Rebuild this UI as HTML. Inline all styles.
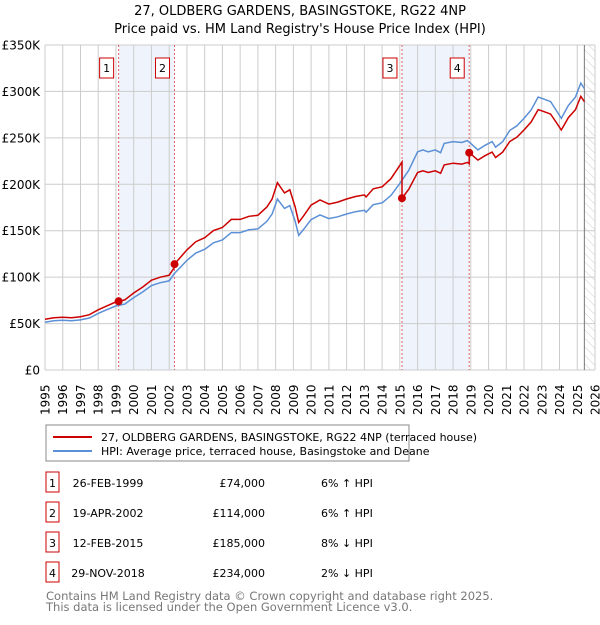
<!DOCTYPE html>
<html><head><meta charset="utf-8"><style>
body{margin:0;background:#fff;font-family:"Liberation Sans","DejaVu Sans",sans-serif;}
svg text{font-family:"DejaVu Sans","Liberation Sans",sans-serif;}
</style></head><body>
<svg id="chart" width="600" height="620" viewBox="0 0 600 620">
<defs><pattern id="hatch" width="6" height="6" patternUnits="userSpaceOnUse" patternTransform="rotate(-45)"><line x1="0" y1="0" x2="0" y2="6" stroke="#ccc" stroke-width="1"/></pattern></defs>
<text x="300" y="15" text-anchor="middle" font-size="13">27, OLDBERG GARDENS, BASINGSTOKE, RG22 4NP</text>
<text x="300" y="33" text-anchor="middle" font-size="13">Price paid vs. HM Land Registry's House Price Index (HPI)</text>
<g id="plot"></g>
<rect x="46" y="425" width="363" height="36" fill="#fff" stroke="#888"/>
<line x1="53" y1="437" x2="92" y2="437" stroke="#cc0000" stroke-width="2"/>
<text x="101" y="441" font-size="11">27, OLDBERG GARDENS, BASINGSTOKE, RG22 4NP (terraced house)</text>
<line x1="53" y1="451" x2="92" y2="451" stroke="#5b8fd6" stroke-width="2"/>
<text x="101" y="455" font-size="11">HPI: Average price, terraced house, Basingstoke and Deane</text>
<g id="table"></g>
<text x="46" y="600" font-size="11.5" fill="#777">Contains HM Land Registry data © Crown copyright and database right 2025.</text>
<text x="46" y="611" font-size="11.5" fill="#777">This data is licensed under the Open Government Licence v3.0.</text>
</svg>
<script>
const hpiYears=[1995,1995.5,1996,1996.5,1997,1997.5,1998,1998.5,1999,1999.5,2000,2000.5,2001,2001.5,2002,2002.3,2002.6,2003,2003.5,2004,2004.5,2005,2005.5,2006,2006.5,2007,2007.5,2007.8,2008.1,2008.5,2008.8,2009.1,2009.3,2009.6,2010,2010.5,2011,2011.5,2012,2012.5,2013,2013.1,2013.5,2014,2014.5,2015,2015.5,2016,2016.3,2016.6,2017,2017.3,2017.5,2018,2018.5,2018.8,2019.0,2019.4,2019.8,2020.2,2020.4,2020.8,2021.2,2021.6,2022,2022.4,2022.8,2023.1,2023.5,2023.8,2024.1,2024.5,2024.9,2025.2,2025.4];
const hpiValues=[51.5,53,53.5,53,54,56,61,65,69,71,78,84,91,94,96,104,110,118,126,130,137,140,148,148,151,152,160,168,184,174,177,160,145,152,162,167,163,165,168,170.5,172,170,178,180,188,201,215,235,237,235,237,234,244,246,245,247,244,237,242,246,240,246,258,263,271,280,294,292,289,280,271,285,294,309,303];
const saleDates=[1999.15,2002.3,2015.12,2018.91];
const salePrices=[74,114,185,234];
const saleLabels=["1","2","3","4"];
const saleDateText=["26-FEB-1999","19-APR-2002","12-FEB-2015","29-NOV-2018"];
const salePriceText=["£74,000","£114,000","£185,000","£234,000"];
const saleDiffText=["6% ↑ HPI","6% ↑ HPI","8% ↓ HPI","2% ↓ HPI"];
const yTicks=[0,50,100,150,200,250,300,350];
const yTickLabels=["£0","£50K","£100K","£150K","£200K","£250K","£300K","£350K"];
const xTicks=[];for(let y=1995;y<=2026;y++)xTicks.push(y);

const NS="http://www.w3.org/2000/svg";
const X0=45,X1=595,Y0=370,Y1=45;
const xs=t=>X0+(t-1995)*(X1-X0)/31;
const ys=v=>Y0-v*(Y0-Y1)/350;
function mk(tag,attrs,parent){const e=document.createElementNS(NS,tag);for(const k in attrs)e.setAttribute(k,attrs[k]);parent.appendChild(e);return e;}
const plot=document.getElementById('plot');
function hpiAt(t){for(let i=0;i<hpiYears.length-1;i++){if(t>=hpiYears[i]&&t<=hpiYears[i+1]){const f=(t-hpiYears[i])/(hpiYears[i+1]-hpiYears[i]);return hpiValues[i]+f*(hpiValues[i+1]-hpiValues[i]);}}return hpiValues[hpiValues.length-1];}
for(let i=0;i<saleDates.length;i+=2){
 const r=mk('rect',{x:xs(saleDates[i]),y:Y1,width:xs(saleDates[i+1])-xs(saleDates[i]),height:Y0-Y1,fill:'#eef3fc'},plot);
 
 
}
const last=hpiYears[hpiYears.length-1];
const h=mk('rect',{x:xs(last),y:Y1,width:X1-xs(last),height:Y0-Y1,fill:'url(#hatch)'},plot);


yTicks.forEach((v,i)=>{
 const l=mk('line',{x1:X0,x2:X1,y1:ys(v),y2:ys(v),stroke:'#ccc','stroke-width':1},plot);
 
 
 const t=mk('text',{x:40,y:ys(v)+4.5,'text-anchor':'end','font-size':12},plot);t.textContent=yTickLabels[i];
 
 
});
xTicks.forEach(y=>{
 const l=mk('line',{x1:xs(y),x2:xs(y),y1:Y1,y2:Y0,stroke:'#ccc','stroke-width':1},plot);
 
 
 const t=mk('text',{x:0,y:0,'font-size':12,transform:`translate(${xs(y)+4.5},415) rotate(-90)`},plot);t.textContent=y;
 
 
});
const vl=mk('line',{x1:xs(last),x2:xs(last),y1:Y1,y2:Y0,stroke:'#777','stroke-width':1},plot);


saleDates.forEach((d,i)=>{
 const l=mk('line',{x1:xs(d),x2:xs(d),y1:Y1,y2:Y0,stroke:'#e06060','stroke-width':1,'stroke-dasharray':'2,2'},plot);
 
 
 const b=mk('rect',{x:xs(d)-19,y:58,width:14,height:20,fill:'#fff',stroke:'#cc0000'},plot);
 
 
 const t=mk('text',{x:xs(d)-12,y:72,'text-anchor':'middle','font-size':11},plot);t.textContent=saleLabels[i];
 
 
});
const hp=hpiYears.map((t,i)=>`${i?'L':'M'}${xs(t).toFixed(1)},${ys(hpiValues[i]).toFixed(1)}`).join('');
const hl=mk('path',{d:hp,fill:'none',stroke:'#5b8fd6','stroke-width':1.5},plot);


const ratios=saleDates.map((d,i)=>salePrices[i]/hpiAt(d));
const pts=[];
const allT=hpiYears.concat(saleDates).sort((a,b)=>a-b);
allT.forEach(t=>{
 let k=0;for(let i=0;i<saleDates.length;i++)if(t>=saleDates[i])k=i;
 saleDates.forEach((d,i)=>{if(t===d&&i>0){pts.push([t,hpiAt(t)*ratios[i-1]]);}});
 pts.push([t,hpiAt(t)*ratios[k]]);
});
const pp=pts.map((p,i)=>`${i?'L':'M'}${xs(p[0]).toFixed(1)},${ys(p[1]).toFixed(1)}`).join('');
const pl=mk('path',{d:pp,fill:'none',stroke:'#cc0000','stroke-width':1.5},plot);


saleDates.forEach((d,i)=>{
 const c=mk('circle',{cx:xs(d),cy:ys(salePrices[i]),r:4,fill:'#cc0000'},plot);
 
 
});
const tb=document.getElementById('table');
saleDates.forEach((d,i)=>{
 const cy=483+i*30;
 const b=mk('rect',{x:46,y:cy-11,width:13,height:20,fill:'#fff',stroke:'#cc0000'},tb);
 
 
 const n=mk('text',{x:52.5,y:cy+4,'text-anchor':'middle','font-size':11},tb);n.textContent=saleLabels[i];
 
 
 const a=mk('text',{x:108,y:cy+4,'text-anchor':'middle','font-size':11},tb);a.textContent=saleDateText[i];
 
 
 const p=mk('text',{x:265,y:cy+4,'text-anchor':'end','font-size':11},tb);p.textContent=salePriceText[i];
 
 
 const q=mk('text',{x:321,y:cy+4,'font-size':11},tb);q.textContent=saleDiffText[i];
 
 
});
</script>
</body></html>
